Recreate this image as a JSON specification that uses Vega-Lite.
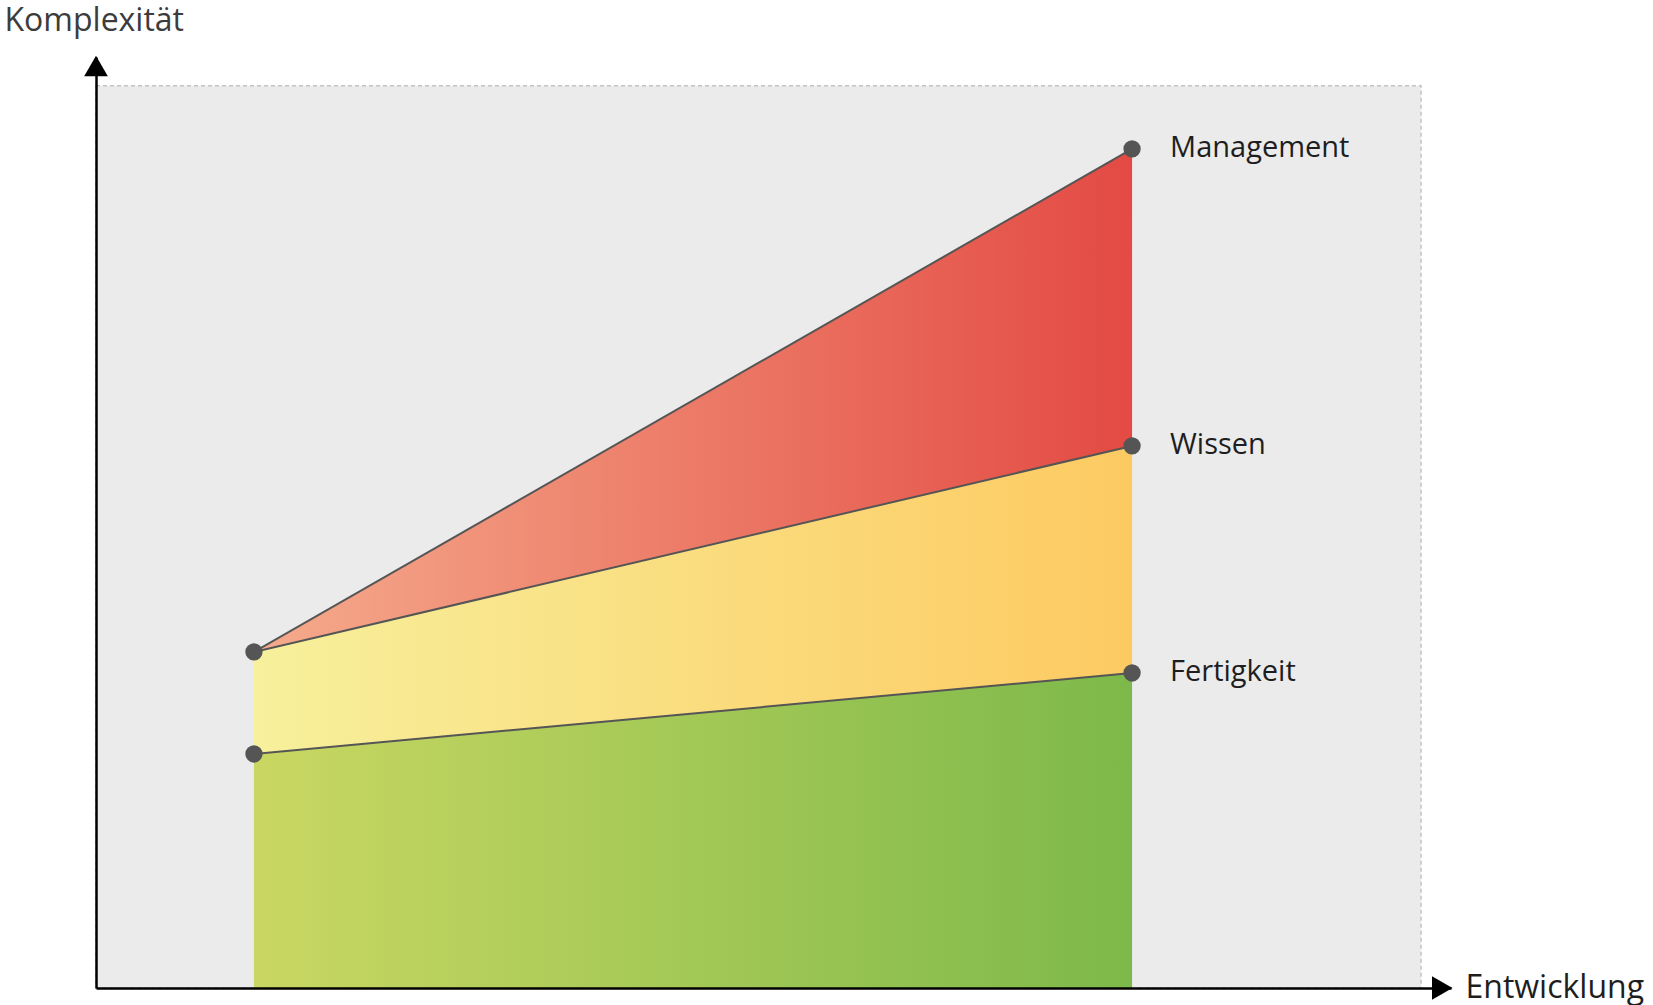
{
  "$schema": "https://vega.github.io/schema/vega-lite/v6.json",
  "width": 1355,
  "height": 931,
  "autosize": "none",
  "padding": {"left": 96, "top": 57, "right": 202, "bottom": 17},
  "background": "white",
  "view": {"stroke": null},
  "config": {"font": "Open Sans"},
  "datasets": {
    "bands": [
      {"x": 11.92, "fert": 25.94, "wiss": 37.25, "mgmt": 37.25},
      {"x": 78.19, "fert": 34.92, "wiss": 60.09, "mgmt": 93.02}
    ],
    "pts": [
      {"x": 11.92, "y": 37.25, "label": ""},
      {"x": 11.92, "y": 25.94, "label": ""},
      {"x": 78.19, "y": 93.02, "label": "Management"},
      {"x": 78.19, "y": 60.09, "label": "Wissen"},
      {"x": 78.19, "y": 34.92, "label": "Fertigkeit"}
    ],
    "one": [{}]
  },
  "layer": [
    {
      "data": {"name": "one"},
      "mark": {"type": "rect", "fill": "#ebebeb", "stroke": "#c4c4c4", "strokeWidth": 1.5, "strokeDash": [4, 3]},
      "encoding": {
        "x": {"datum": 0, "type": "quantitative", "scale": {"domain": [0, 102.26], "nice": false, "zero": false},
          "axis": {"zindex": 2, "labels": false, "ticks": false, "grid": false, "domain": true, "domainColor": "#000000", "domainWidth": 2.5,
            "title": "Entwicklung", "titleX": 1369, "titleY": 9, "titleAlign": "left", "titleAnchor": null, "titleBaseline": "alphabetic",
            "titleFont": "Open Sans", "titleFontSize": 32, "titleFontWeight": "normal", "titleColor": "#1e1e1e"}},
        "x2": {"datum": 100},
        "y": {"datum": 0, "type": "quantitative", "scale": {"domain": [0, 103.2], "nice": false, "zero": false},
          "axis": {"zindex": 2, "labels": false, "ticks": false, "grid": false, "domain": true, "domainColor": "#000000", "domainWidth": 2.5,
            "title": "Komplexität", "titleAngle": 0, "titleX": -92, "titleY": -27, "titleAlign": "left", "titleAnchor": null, "titleBaseline": "alphabetic",
            "titleFont": "Open Sans", "titleFontSize": 32, "titleFontWeight": "normal", "titleColor": "#3c3c3c"}},
        "y2": {"datum": 100}
      }
    },
    {
      "data": {"name": "bands"},
      "mark": {"type": "area", "fill": {"gradient": "linear", "x1": 0, "y1": 0, "x2": 1, "y2": 0,
        "stops": [{"offset": 0, "color": "#c9d762"}, {"offset": 1, "color": "#7db94a"}]}},
      "encoding": {
        "x": {"field": "x", "type": "quantitative"},
        "y": {"field": "fert", "type": "quantitative"},
        "y2": {"datum": 0}
      }
    },
    {
      "data": {"name": "bands"},
      "mark": {"type": "area", "fill": {"gradient": "linear", "x1": 0, "y1": 0, "x2": 1, "y2": 0,
        "stops": [{"offset": 0, "color": "#f7f09c"}, {"offset": 1, "color": "#fdca62"}]}},
      "encoding": {
        "x": {"field": "x", "type": "quantitative"},
        "y": {"field": "wiss", "type": "quantitative"},
        "y2": {"field": "fert"}
      }
    },
    {
      "data": {"name": "bands"},
      "mark": {"type": "area", "fill": {"gradient": "linear", "x1": 0, "y1": 0, "x2": 1, "y2": 0,
        "stops": [{"offset": 0, "color": "#f5ab8c"}, {"offset": 1, "color": "#e34a43"}]}},
      "encoding": {
        "x": {"field": "x", "type": "quantitative"},
        "y": {"field": "mgmt", "type": "quantitative"},
        "y2": {"field": "wiss"}
      }
    },
    {
      "data": {"name": "bands"},
      "transform": [{"fold": ["fert", "wiss", "mgmt"], "as": ["key", "val"]}],
      "mark": {"type": "line", "color": "#555555", "strokeWidth": 2},
      "encoding": {
        "x": {"field": "x", "type": "quantitative"},
        "y": {"field": "val", "type": "quantitative"},
        "detail": {"field": "key"}
      }
    },
    {
      "data": {"name": "pts"},
      "mark": {"type": "point", "shape": "circle", "filled": true, "color": "#555555", "size": 300, "opacity": 1},
      "encoding": {
        "x": {"field": "x", "type": "quantitative"},
        "y": {"field": "y", "type": "quantitative"}
      }
    },
    {
      "data": {"name": "pts"},
      "mark": {"type": "text", "align": "left", "baseline": "middle", "dx": 38, "dy": -1, "font": "Open Sans", "fontSize": 29, "color": "#1e1e1e"},
      "encoding": {
        "x": {"field": "x", "type": "quantitative"},
        "y": {"field": "y", "type": "quantitative"},
        "text": {"field": "label"}
      }
    },
    {
      "data": {"name": "one"},
      "mark": {"type": "point", "shape": "triangle-up", "filled": true, "color": "#000000", "size": 560, "opacity": 1},
      "encoding": {
        "x": {"datum": 0, "type": "quantitative"},
        "y": {"datum": 102.2, "type": "quantitative"}
      }
    },
    {
      "data": {"name": "one"},
      "mark": {"type": "point", "shape": "triangle-right", "filled": true, "color": "#000000", "size": 560, "opacity": 1},
      "encoding": {
        "x": {"datum": 101.6, "type": "quantitative"},
        "y": {"datum": 0, "type": "quantitative"}
      }
    }
  ]
}
